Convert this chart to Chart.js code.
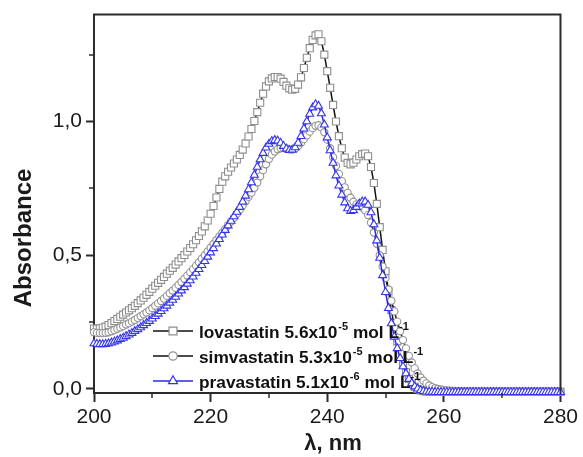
<!DOCTYPE html>
<html>
<head>
<meta charset="utf-8">
<script src="https://cdn.jsdelivr.net/npm/chart.js@4.4.0/dist/chart.umd.min.js"></script>
<style>
  html, body { margin: 0; padding: 0; background: #fff; }
  #wrap { width: 583px; height: 457px; position: relative; }
</style>
</head>
<body>
<div id="wrap"><canvas id="spectra"></canvas></div>
<script>
// wavelength grid (nm), 0.5 nm steps
const wavelengths = [
  200, 200.5, 201, 201.5, 202, 202.5, 203, 203.5, 204, 204.5,
  205, 205.5, 206, 206.5, 207, 207.5, 208, 208.5, 209, 209.5,
  210, 210.5, 211, 211.5, 212, 212.5, 213, 213.5, 214, 214.5,
  215, 215.5, 216, 216.5, 217, 217.5, 218, 218.5, 219, 219.5,
  220, 220.5, 221, 221.5, 222, 222.5, 223, 223.5, 224, 224.5,
  225, 225.5, 226, 226.5, 227, 227.5, 228, 228.5, 229, 229.5,
  230, 230.5, 231, 231.5, 232, 232.5, 233, 233.5, 234, 234.5,
  235, 235.5, 236, 236.5, 237, 237.5, 238, 238.5, 239, 239.5,
  240, 240.5, 241, 241.5, 242, 242.5, 243, 243.5, 244, 244.5,
  245, 245.5, 246, 246.5, 247, 247.5, 248, 248.5, 249, 249.5,
  250, 250.5, 251, 251.5, 252, 252.5, 253, 253.5, 254, 254.5,
  255, 255.5, 256, 256.5, 257, 257.5, 258, 258.5, 259, 259.5,
  260, 260.5, 261, 261.5, 262, 262.5, 263, 263.5, 264, 264.5,
  265, 265.5, 266, 266.5, 267, 267.5, 268, 268.5, 269, 269.5,
  270, 270.5, 271, 271.5, 272, 272.5, 273, 273.5, 274, 274.5,
  275, 275.5, 276, 276.5, 277, 277.5, 278, 278.5, 279, 279.5,
  280
]

const lovastatin = [
  0.226, 0.225, 0.226, 0.229, 0.233, 0.239, 0.246, 0.254, 0.262, 0.270,
  0.278, 0.286, 0.294, 0.302, 0.311, 0.321, 0.331, 0.341, 0.352, 0.363,
  0.375, 0.386, 0.397, 0.408, 0.419, 0.431, 0.442, 0.453, 0.465, 0.477,
  0.489, 0.501, 0.514, 0.527, 0.541, 0.556, 0.572, 0.589, 0.608, 0.630,
  0.655, 0.684, 0.716, 0.748, 0.775, 0.795, 0.812, 0.828, 0.843, 0.858,
  0.875, 0.895, 0.918, 0.944, 0.972, 1.002, 1.035, 1.070, 1.104, 1.131,
  1.150, 1.161, 1.166, 1.166, 1.160, 1.148, 1.134, 1.124, 1.119, 1.122,
  1.138, 1.165, 1.200, 1.238, 1.274, 1.305, 1.322, 1.326, 1.300, 1.250,
  1.188, 1.126, 1.062, 1.000, 0.945, 0.900, 0.865, 0.845, 0.840, 0.846,
  0.858, 0.870, 0.878, 0.880, 0.870, 0.830, 0.770, 0.692, 0.605, 0.520,
  0.440, 0.365, 0.295, 0.232, 0.178, 0.132, 0.094, 0.062, 0.038, 0.020,
  0.008, 0.000, -0.005, -0.008, -0.010, -0.010, -0.011, -0.011, -0.011, -0.011,
  -0.011, -0.011, -0.011, -0.011, -0.011, -0.011, -0.011, -0.011, -0.011, -0.011,
  -0.011, -0.011, -0.011, -0.011, -0.011, -0.011, -0.011, -0.011, -0.011, -0.011,
  -0.011, -0.011, -0.011, -0.011, -0.011, -0.011, -0.011, -0.011, -0.011, -0.011,
  -0.011, -0.011, -0.011, -0.011, -0.011, -0.011, -0.011, -0.011, -0.011, -0.011,
  -0.011
]

const simvastatin = [
  0.212, 0.210, 0.209, 0.209, 0.210, 0.212, 0.216, 0.220, 0.225, 0.230,
  0.235, 0.241, 0.246, 0.252, 0.258, 0.265, 0.272, 0.279, 0.286, 0.294,
  0.302, 0.311, 0.320, 0.329, 0.338, 0.348, 0.358, 0.368, 0.378, 0.389,
  0.400, 0.412, 0.424, 0.436, 0.448, 0.461, 0.474, 0.487, 0.500, 0.514,
  0.528, 0.542, 0.556, 0.570, 0.584, 0.598, 0.612, 0.626, 0.640, 0.655,
  0.670, 0.686, 0.702, 0.718, 0.734, 0.752, 0.772, 0.795, 0.818, 0.840,
  0.860, 0.876, 0.888, 0.896, 0.900, 0.901, 0.899, 0.896, 0.895, 0.899,
  0.908, 0.920, 0.934, 0.948, 0.962, 0.975, 0.984, 0.986, 0.978, 0.960,
  0.932, 0.900, 0.866, 0.834, 0.804, 0.777, 0.754, 0.733, 0.715, 0.700,
  0.690, 0.684, 0.678, 0.668, 0.650, 0.622, 0.585, 0.543, 0.500, 0.458,
  0.415, 0.372, 0.330, 0.290, 0.252, 0.216, 0.183, 0.152, 0.124, 0.099,
  0.077, 0.058, 0.043, 0.031, 0.021, 0.013, 0.007, 0.003, 0.000, -0.002,
  -0.004, -0.005, -0.006, -0.007, -0.008, -0.008, -0.009, -0.009, -0.009, -0.009,
  -0.009, -0.009, -0.009, -0.009, -0.009, -0.009, -0.009, -0.009, -0.009, -0.009,
  -0.009, -0.009, -0.009, -0.009, -0.009, -0.009, -0.009, -0.009, -0.009, -0.009,
  -0.009, -0.009, -0.009, -0.009, -0.009, -0.009, -0.009, -0.009, -0.009, -0.009,
  -0.009
]

const pravastatin = [
  0.170, 0.168, 0.167, 0.167, 0.168, 0.170, 0.173, 0.177, 0.181, 0.186,
  0.191, 0.197, 0.203, 0.209, 0.216, 0.223, 0.230, 0.238, 0.246, 0.254,
  0.263, 0.272, 0.281, 0.291, 0.301, 0.311, 0.322, 0.333, 0.344, 0.356,
  0.368, 0.380, 0.393, 0.406, 0.420, 0.434, 0.448, 0.463, 0.478, 0.494,
  0.510, 0.526, 0.543, 0.560, 0.577, 0.594, 0.611, 0.628, 0.645, 0.662,
  0.680, 0.700, 0.722, 0.746, 0.772, 0.800, 0.830, 0.858, 0.882, 0.902,
  0.916, 0.926, 0.930, 0.928, 0.920, 0.908, 0.898, 0.893, 0.894, 0.903,
  0.920, 0.945, 0.973, 1.000, 1.028, 1.052, 1.064, 1.058, 1.030, 0.988,
  0.940, 0.892, 0.845, 0.798, 0.760, 0.726, 0.697, 0.675, 0.665, 0.668,
  0.680, 0.693, 0.700, 0.700, 0.688, 0.660, 0.615, 0.555, 0.490, 0.425,
  0.362, 0.302, 0.245, 0.195, 0.152, 0.115, 0.084, 0.058, 0.037, 0.021,
  0.009, 0.001, -0.005, -0.008, -0.010, -0.011, -0.011, -0.012, -0.012, -0.012,
  -0.012, -0.012, -0.012, -0.012, -0.012, -0.012, -0.012, -0.012, -0.012, -0.012,
  -0.012, -0.012, -0.012, -0.012, -0.012, -0.012, -0.012, -0.012, -0.012, -0.012,
  -0.012, -0.012, -0.012, -0.012, -0.012, -0.012, -0.012, -0.012, -0.012, -0.012,
  -0.012, -0.012, -0.012, -0.012, -0.012, -0.012, -0.012, -0.012, -0.012, -0.012,
  -0.012
]

// axis ticks
const xTicks = [200, 220, 240, 260, 280]
const xMinorTicks = [210, 230, 250, 270]
const yTicks = [0, 0.5, 1.0]
const yMinorTicks = [0.25, 0.75, 1.25]

// legend text
const seriesNames = ['lovastatin', 'simvastatin', 'pravastatin']
const seriesConc = ['5.6x10', '5.3x10', '5.1x10']
const seriesExp = ['-5', '-5', '-6']

// look
const FONT = "'Liberation Sans', Arial, sans-serif"
const AXIS = '#2b2b2b'
const markerStyles = ['rect', 'circle', 'triangle']
const markerRadius = [5, 3.6, 4.6]
const markerColors = ['#8e8e8e', '#939393', '#3535f0']
const lineColors = ['#111111', '#111111', '#2a2ae8']

function toPoints(values) {
  return values.map((v, i) => ({ x: wavelengths[i], y: v }))
}

function drawMarker(ctx, style, cx, cy, r) {
  ctx.beginPath()
  if (style === 'rect') {
    const s = r * Math.SQRT1_2
    ctx.rect(cx - s, cy - s, 2 * s, 2 * s)
  } else if (style === 'circle') {
    ctx.arc(cx, cy, r, 0, Math.PI * 2)
  } else {
    ctx.moveTo(cx, cy - r)
    ctx.lineTo(cx + r * 0.866, cy + r / 2)
    ctx.lineTo(cx - r * 0.866, cy + r / 2)
    ctx.closePath()
  }
  ctx.fill()
  ctx.stroke()
}

// frame, minor ticks, axis titles and the legend with superscripts
const extras = {
  id: 'extras',
  afterDatasetsDraw(chart) {
    const { ctx, chartArea: a, scales: { x, y } } = chart
    ctx.save()

    ctx.strokeStyle = AXIS
    ctx.lineWidth = 2
    ctx.beginPath()
    ctx.moveTo(a.left - 1, a.top)
    ctx.lineTo(a.right, a.top)
    ctx.lineTo(a.right, a.bottom + 1)
    ctx.stroke()

    ctx.lineWidth = 1.5
    ctx.beginPath()
    xMinorTicks.forEach(v => {
      const px = Math.round(x.getPixelForValue(v))
      ctx.moveTo(px, a.bottom)
      ctx.lineTo(px, a.bottom + 5)
    })
    yMinorTicks.forEach(v => {
      const py = Math.round(y.getPixelForValue(v))
      ctx.moveTo(a.left, py)
      ctx.lineTo(a.left - 5, py)
    })
    ctx.stroke()

    // axis titles
    ctx.fillStyle = '#1a1a1a'
    ctx.textAlign = 'center'
    ctx.textBaseline = 'middle'
    ctx.font = 'bold 22px ' + FONT
    ctx.fillText('λ, nm', 333, 444)
    ctx.save()
    ctx.translate(24, 238)
    ctx.rotate(-Math.PI / 2)
    ctx.font = 'bold 24px ' + FONT
    ctx.fillText('Absorbance', 0, 0)
    ctx.restore()

    // legend
    ctx.textAlign = 'left'
    ctx.textBaseline = 'alphabetic'
    seriesNames.forEach((name, i) => {
      const rowY = 331 + i * 25
      ctx.strokeStyle = lineColors[i]
      ctx.lineWidth = 1.6
      ctx.beginPath()
      ctx.moveTo(153, rowY)
      ctx.lineTo(193, rowY)
      ctx.stroke()
      ctx.fillStyle = '#fff'
      ctx.strokeStyle = markerColors[i]
      ctx.lineWidth = 1.2
      drawMarker(ctx, markerStyles[i], 173, rowY, markerRadius[i] + 0.6)

      const base = rowY + 6.5
      let tx = 199
      ctx.fillStyle = '#111'
      ctx.font = 'bold 17.3px ' + FONT
      const main = name + ' ' + seriesConc[i]
      ctx.fillText(main, tx, base)
      tx += ctx.measureText(main).width
      ctx.font = 'bold 11px ' + FONT
      ctx.fillText(seriesExp[i], tx + 1, base - 8)
      tx += ctx.measureText(seriesExp[i]).width + 1
      ctx.font = 'bold 17.3px ' + FONT
      ctx.fillText(' mol L', tx, base)
      tx += ctx.measureText(' mol L').width
      ctx.font = 'bold 11px ' + FONT
      ctx.fillText('-1', tx, base - 8)
    })

    ctx.restore()
  }
}

const series = [lovastatin, simvastatin, pravastatin]

new Chart(document.getElementById('spectra'), {
  type: 'line',
  data: {
    datasets: series.map((vals, i) => ({
      label: seriesNames[i],
      data: toPoints(vals),
      order: 3 - i,
      borderColor: lineColors[i],
      borderWidth: 1.5,
      pointStyle: markerStyles[i],
      pointRadius: markerRadius[i],
      pointBorderWidth: 1.1,
      pointBorderColor: markerColors[i],
      pointBackgroundColor: '#fff',
      tension: 0,
      clip: false
    }))
  },
  options: {
    responsive: true,
    maintainAspectRatio: false,
    animation: false,
    events: [],
    layout: { padding: { left: 0, top: 12, right: 19, bottom: 0 } },
    plugins: {
      legend: { display: false },
      tooltip: { enabled: false }
    },
    scales: {
      x: {
        type: 'linear',
        min: 200,
        max: 280,
        afterFit: s => { s.height = 64 },
        afterBuildTicks: s => { s.ticks = xTicks.map(v => ({ value: v })) },
        grid: { drawOnChartArea: false, drawTicks: true, tickLength: 9, tickWidth: 2, tickColor: AXIS },
        border: { color: AXIS, width: 2 },
        ticks: {
          padding: 5,
          color: '#1a1a1a',
          font: { family: FONT, size: 21, lineHeight: 1 },
          maxRotation: 0,
          callback: v => String(v)
        }
      },
      y: {
        min: -0.015,
        max: 1.4,
        afterFit: s => { s.width = 94 },
        afterBuildTicks: s => { s.ticks = yTicks.map(v => ({ value: v })) },
        grid: { drawOnChartArea: false, drawTicks: true, tickLength: 8, tickWidth: 2, tickColor: AXIS },
        border: { color: AXIS, width: 2 },
        ticks: {
          padding: 4,
          color: '#1a1a1a',
          font: { family: FONT, size: 21, lineHeight: 1 },
          callback: v => v.toFixed(1).replace('.', ',')
        }
      }
    }
  },
  plugins: [extras]
})
</script>
</body>
</html>
